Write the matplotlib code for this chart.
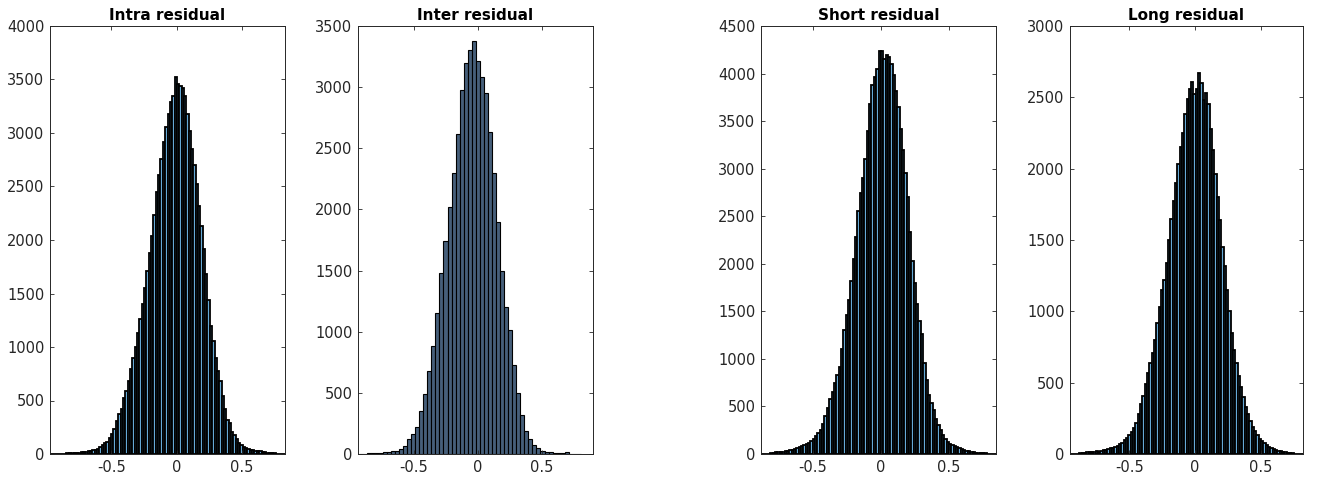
import numpy as np
import matplotlib
matplotlib.use("Agg")
import matplotlib.pyplot as plt

# bin counts of the four residual histograms (left to right)
intra_counts = [
    0, 0, 1, 1, 3, 3, 4, 6, 7, 8,
    10, 11, 13, 15, 17, 20, 24, 27, 35, 40,
    48, 62, 85, 100, 115, 145, 185, 235, 310, 370,
    420, 520, 590, 680, 790, 900, 1000, 1130, 1260, 1400,
    1550, 1710, 1880, 2040, 2230, 2450, 2610, 2760, 2920, 3060,
    3180, 3290, 3350, 3520, 3460, 3440, 3420, 3350, 3180, 3020,
    2850, 2700, 2520, 2320, 2130, 1920, 1680, 1440, 1200, 1060,
    900, 780, 680, 540, 420, 320, 290, 210, 175, 140,
    100, 85, 68, 60, 50, 42, 35, 32, 28, 25,
    20, 16, 12, 10, 7, 5, 3, 2, 1, 0,
]
inter_counts = [
    3, 4, 5, 6, 8, 10, 14, 17, 22, 28,
    42, 65, 120, 165, 220, 350, 490, 680, 880, 1150,
    1480, 1740, 2020, 2300, 2620, 2980, 3200, 3300, 3380, 3210,
    3080, 2950, 2630, 2300, 1900, 1500, 1200, 1010, 730, 500,
    320, 190, 125, 75, 46, 26, 18, 14, 10, 7,
    5, 15, 2, 1, 0,
]
short_counts = [
    0, 3, 4, 5, 8, 15, 17, 18, 22, 20,
    30, 28, 40, 45, 55, 65, 70, 85, 95, 110,
    120, 135, 155, 190, 220, 250, 320, 400, 480, 580,
    650, 750, 830, 910, 1100, 1300, 1460, 1620, 1820, 2050,
    2280, 2550, 2740, 2900, 3100, 3400, 3680, 3880, 3960, 4050,
    4237, 4240, 4150, 4200, 4170, 4100, 3980, 3820, 3650, 3420,
    3200, 2950, 2700, 2330, 2030, 1800, 1580, 1400, 1260, 960,
    780, 620, 540, 460, 370, 300, 250, 200, 160, 130,
    110, 95, 82, 72, 60, 50, 40, 32, 27, 22,
    18, 15, 13, 11, 9, 8, 5, 3, 2, 1,
]
long_counts = [
    0, 0, 1, 2, 8, 9, 10, 12, 14, 13,
    16, 18, 17, 22, 25, 30, 36, 42, 40, 50,
    58, 68, 78, 95, 112, 130, 155, 185, 215, 280,
    350, 410, 490, 570, 640, 710, 800, 920, 1030, 1150,
    1220, 1340, 1500, 1650, 1770, 1900, 2030, 2150, 2250, 2380,
    2490, 2560, 2610, 2520, 2560, 2670, 2600, 2480, 2530, 2450,
    2280, 2130, 1960, 1800, 1640, 1450, 1320, 1150, 1000, 850,
    730, 640, 550, 470, 400, 330, 280, 230, 190, 160,
    130, 105, 92, 75, 60, 50, 42, 36, 30, 24,
    20, 16, 12, 10, 8, 6, 3, 2, 1, 0,
]

titles = ["Intra residual", "Inter residual", "Short residual", "Long residual"]
bin_ranges = [(-0.967, 0.827), (-0.930, 0.8015), (-0.882, 0.846), (-0.949, 0.820)]
x_limits = [(-0.967, 0.827), (-0.935, 0.896), (-0.882, 0.846), (-0.949, 0.820)]
y_tops = [4000, 3500, 4500, 3000]
edge_widths = [1.3, 0.8, 1.3, 1.3]

# matlab default blue at 0.6 alpha on white; the coarser panel reads darker
faces = [(0.4, 0.668, 0.845), "#465f7a", (0.4, 0.668, 0.845), (0.4, 0.668, 0.845)]
text_gray = "#262626"

fig = plt.figure(figsize=(13.2, 4.8), dpi=100)
lefts = [50, 358, 761, 1070]
widths = [235, 235, 235, 233]

for k, counts in enumerate([intra_counts, inter_counts, short_counts, long_counts]):
    ax = fig.add_axes([lefts[k] / 1320, 26 / 480, widths[k] / 1320, 428 / 480])
    lo, hi = bin_ranges[k]
    edges = np.linspace(lo, hi, len(counts) + 1)
    ax.bar(edges[:-1], counts, width=np.diff(edges), align="edge",
           facecolor=faces[k], edgecolor="black", linewidth=edge_widths[k])
    ax.set_xlim(*x_limits[k])
    ax.set_ylim(0, y_tops[k])
    ax.set_xticks([-0.5, 0, 0.5])
    ax.set_xticklabels(["-0.5", "0", "0.5"])
    ax.set_yticks(np.arange(0, y_tops[k] + 1, 500))
    ax.tick_params(direction="in", top=True, right=True, length=3,
                   width=0.6, labelsize=10.5, colors=text_gray, pad=4)
    for s in ax.spines.values():
        s.set_color(text_gray)
        s.set_linewidth(0.7)
    ax.set_title(titles[k], fontsize=11, fontweight="bold", color="black", pad=4)

fig.savefig("out.png", dpi=100)
